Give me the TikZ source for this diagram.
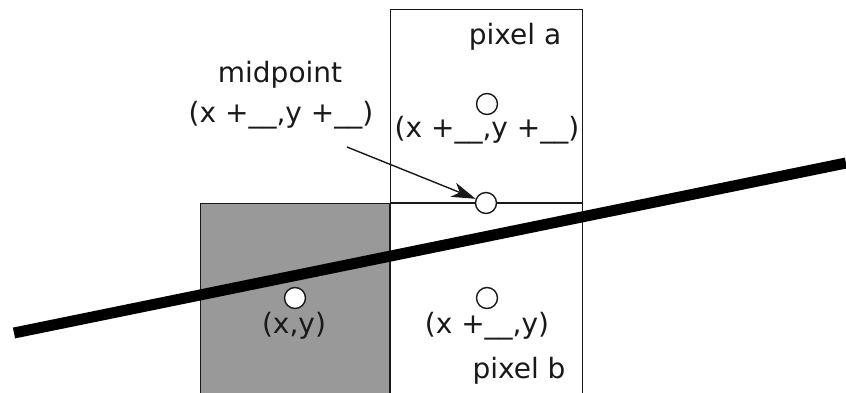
\documentclass[tikz,border=0pt]{standalone}
\usepackage{fontspec}
\setmainfont{DejaVu Sans}
\usetikzlibrary{arrows.meta}
\definecolor{pixgray}{RGB}{153,153,153}
\definecolor{inkc}{RGB}{25,25,25}
\begin{document}
\begin{tikzpicture}[x=1pt,y=-1pt,
  lbl/.style={font=\fontsize{28}{33}\selectfont, inner sep=0pt, anchor=base, text=inkc},
  dot/.style={circle, draw=inkc, line width=1.4pt, fill=white, minimum size=21pt, inner sep=0pt},
  box/.style={draw=inkc, line width=1pt}]
\useasboundingbox (0,0) rectangle (846,393);
% pixel boxes
\draw[box, fill=pixgray] (200,203) rectangle (390,395);
\draw[box] (390,10) rectangle (582,395);
\draw[line width=2.2pt, draw=inkc] (390,203) -- (582,203);
\draw[line width=1.8pt, draw=inkc] (390,203) -- (390,395);
% the line
\coordinate (lineL) at (14,333);
\coordinate (lineR) at (846,163);
\draw[line width=11pt] (lineL) -- (lineR);
% sample points
\node[dot] (ca) at (487,104) {};
\node[dot] (mid) at (486,203) {};
\node[dot] (cb) at (487,298) {};
\node[dot] (cxy) at (295,298) {};
% labels
\node[lbl] (pa) at (515,45) {pixel a};
\node[lbl] (pb) at (519,378) {pixel b};
\node[lbl] (mlab) at (280,83) {midpoint};
\node[lbl] (mcoord) at (281,123) {(x +\_\_,y +\_\_)};
\node[lbl] (acoord) at (487,138) {(x +\_\_,y +\_\_)};
\node[lbl] (xy) at (294,333) {(x,y)};
\node[lbl] (bcoord) at (487,333) {(x +\_\_,y)};
% arrow
\coordinate (as) at (347,147);
\draw[line width=1.4pt, draw=inkc, -{Stealth[length=24pt,width=15pt,inset=7pt]}] (as) -- (mid);
\end{tikzpicture}
\end{document}
